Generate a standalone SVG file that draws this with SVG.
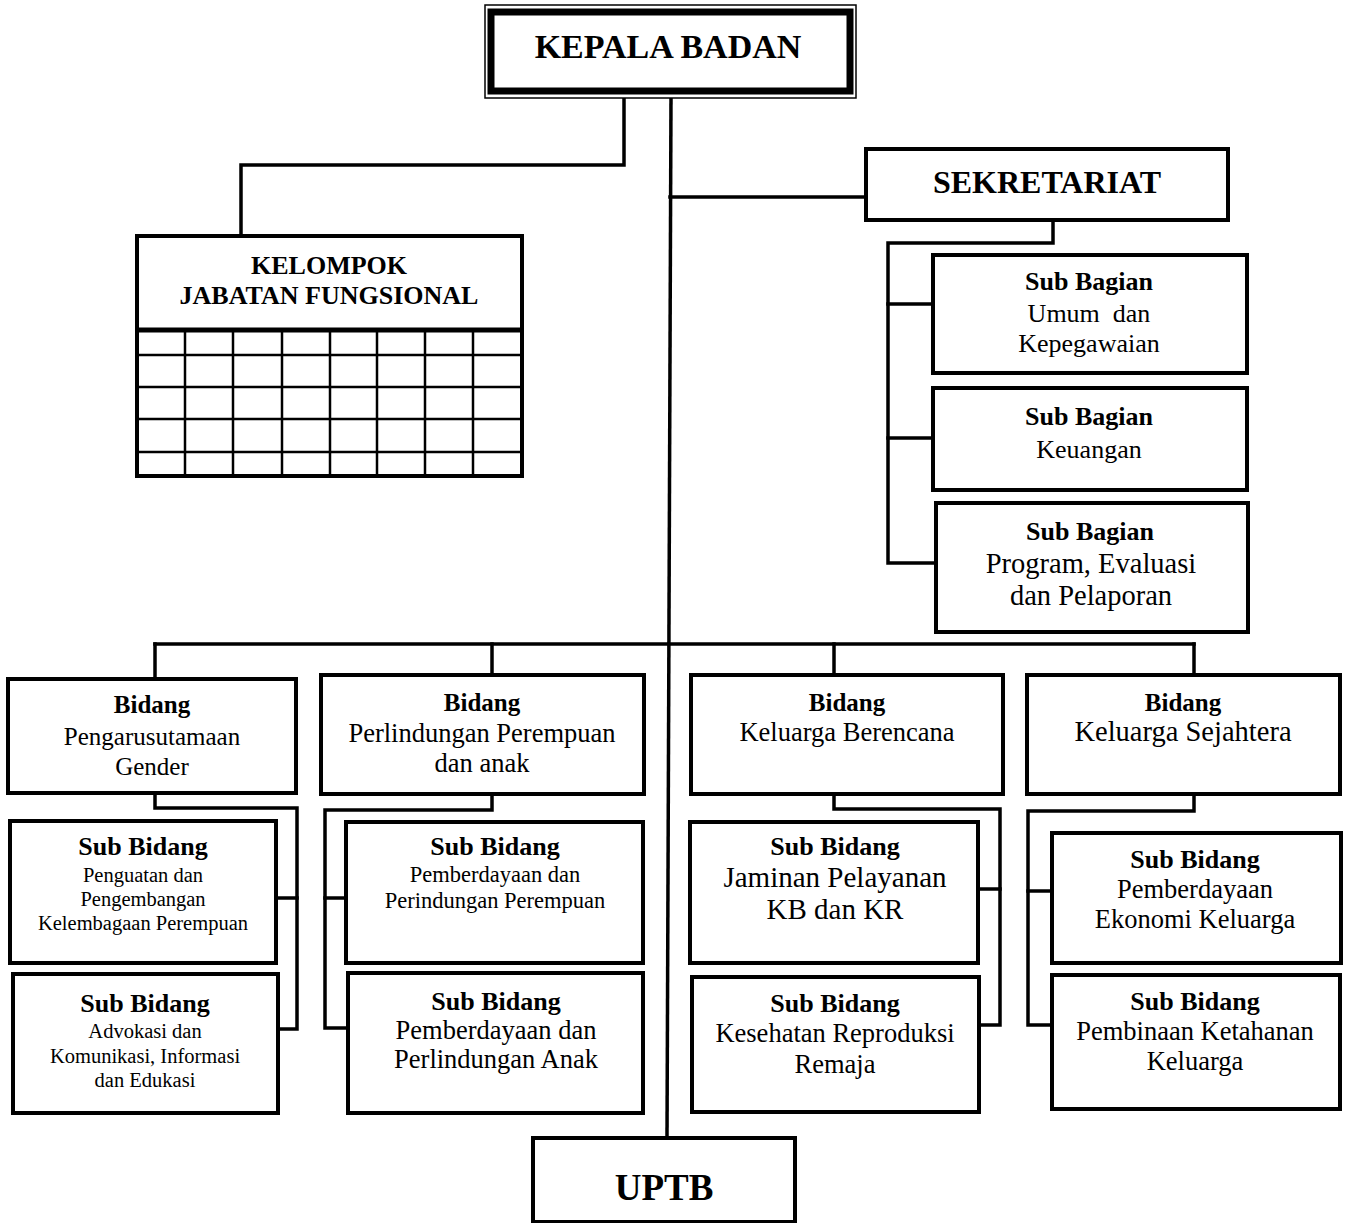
<svg xmlns="http://www.w3.org/2000/svg" width="1346" height="1223" viewBox="0 0 1346 1223">
<style>
  .box { fill: #fff; stroke: #000; stroke-width: 4; }
  .con { fill: none; stroke: #000; stroke-width: 3.5; stroke-linejoin: miter; stroke-linecap: square; }
  .grid { stroke: #000; stroke-width: 2.5; }
  text { font-family: "Liberation Serif", "Times New Roman", serif; fill: #000; text-anchor: middle; white-space: pre; }
  .b { font-weight: bold; }
</style>
<rect width="1346" height="1223" fill="#fff"/>

<g id="connectors">
  <polyline class="con" points="624,96 624,165 241,165 241,236"/>
  <line class="con" x1="671" y1="96" x2="667" y2="1138"/>
  <line class="con" x1="670" y1="197" x2="866" y2="197"/>
  <polyline class="con" points="1053,220 1053,243 888,243 888,563 934,563"/>
  <line class="con" x1="888" y1="304" x2="933" y2="304"/>
  <line class="con" x1="888" y1="438" x2="933" y2="438"/>
  <line class="con" x1="155" y1="644" x2="1194" y2="644"/>
  <line class="con" x1="155" y1="644" x2="155" y2="679"/>
  <line class="con" x1="492" y1="644" x2="492" y2="675"/>
  <line class="con" x1="834" y1="644" x2="834" y2="675"/>
  <line class="con" x1="1194" y1="644" x2="1194" y2="675"/>
  <polyline class="con" points="155,793 155,808 297,808 297,1029 278,1029"/>
  <line class="con" x1="276" y1="898" x2="297" y2="898"/>
  <polyline class="con" points="492,794 492,810 325,810 325,1028 348,1028"/>
  <line class="con" x1="325" y1="898" x2="346" y2="898"/>
  <polyline class="con" points="834,794 834,809 1000,809 1000,1025 979,1025"/>
  <line class="con" x1="978" y1="889" x2="1000" y2="889"/>
  <polyline class="con" points="1194,794 1194,811 1028,811 1028,1025 1052,1025"/>
  <line class="con" x1="1028" y1="891" x2="1052" y2="891"/>
</g>

<g id="kepala-badan">
  <rect x="485" y="5" width="371" height="93" fill="#fff" stroke="#000" stroke-width="1.5"/>
  <rect x="491" y="12" width="359" height="79" fill="#fff" stroke="#000" stroke-width="7"/>
  <text class="b" x="668" y="58" font-size="34">KEPALA BADAN</text>
</g>

<g id="kelompok-jabatan-fungsional">
  <rect class="box" x="137" y="236" width="385" height="240"/>
  <line x1="137" y1="330" x2="522" y2="330" stroke="#000" stroke-width="5"/>
  <g class="grid">
    <line x1="137" y1="355" x2="522" y2="355"/>
    <line x1="137" y1="387" x2="522" y2="387"/>
    <line x1="137" y1="419" x2="522" y2="419"/>
    <line x1="137" y1="452" x2="522" y2="452"/>
    <line x1="185" y1="330" x2="185" y2="476"/>
    <line x1="233" y1="330" x2="233" y2="476"/>
    <line x1="282" y1="330" x2="282" y2="476"/>
    <line x1="330" y1="330" x2="330" y2="476"/>
    <line x1="377" y1="330" x2="377" y2="476"/>
    <line x1="425" y1="330" x2="425" y2="476"/>
    <line x1="473" y1="330" x2="473" y2="476"/>
  </g>
  <text class="b" x="329" y="274" font-size="26">KELOMPOK</text>
  <text class="b" x="329" y="304" font-size="26">JABATAN FUNGSIONAL</text>
</g>

<g id="sekretariat">
  <rect class="box" x="866" y="149" width="362" height="71" stroke-width="5"/>
  <text class="b" x="1047" y="193" font-size="32">SEKRETARIAT</text>
</g>

<g id="sub-bagian-umum">
  <rect class="box" x="933" y="255" width="314" height="118"/>
  <text class="b" x="1089" y="290" font-size="26">Sub Bagian</text>
  <text x="1089" y="322" font-size="26">Umum  dan</text>
  <text x="1089" y="352" font-size="26">Kepegawaian</text>
</g>

<g id="sub-bagian-keuangan">
  <rect class="box" x="933" y="388" width="314" height="102"/>
  <text class="b" x="1089" y="425" font-size="26">Sub Bagian</text>
  <text x="1089" y="458" font-size="26">Keuangan</text>
</g>

<g id="sub-bagian-program">
  <rect class="box" x="936" y="503" width="312" height="129"/>
  <text class="b" x="1090" y="540" font-size="26">Sub Bagian</text>
  <text x="1091" y="573" font-size="28.5">Program, Evaluasi</text>
  <text x="1091" y="605" font-size="28.5">dan Pelaporan</text>
</g>

<g id="bidang-pug">
  <rect class="box" x="8" y="679" width="288" height="114"/>
  <text class="b" x="152" y="713" font-size="25">Bidang</text>
  <text x="152" y="745" font-size="25">Pengarusutamaan</text>
  <text x="152" y="775" font-size="25">Gender</text>
</g>

<g id="bidang-ppa">
  <rect class="box" x="321" y="675" width="323" height="119"/>
  <text class="b" x="482" y="711" font-size="25">Bidang</text>
  <text x="482" y="742" font-size="26.5">Perlindungan Perempuan</text>
  <text x="482" y="772" font-size="26.5">dan anak</text>
</g>

<g id="bidang-kb">
  <rect class="box" x="691" y="675" width="312" height="119"/>
  <text class="b" x="847" y="711" font-size="25">Bidang</text>
  <text x="847" y="741" font-size="26.5">Keluarga Berencana</text>
</g>

<g id="bidang-ks">
  <rect class="box" x="1027" y="675" width="313" height="119"/>
  <text class="b" x="1183" y="711" font-size="25">Bidang</text>
  <text x="1183" y="741" font-size="28.5">Keluarga Sejahtera</text>
</g>

<g id="sub-bidang-penguatan">
  <rect class="box" x="10" y="821" width="266" height="142"/>
  <text class="b" x="143" y="855" font-size="26">Sub Bidang</text>
  <text x="143" y="882" font-size="20.5">Penguatan dan</text>
  <text x="143" y="906" font-size="20.5">Pengembangan</text>
  <text x="143" y="930" font-size="20.5">Kelembagaan Perempuan</text>
</g>

<g id="sub-bidang-advokasi">
  <rect class="box" x="13" y="974" width="265" height="139"/>
  <text class="b" x="145" y="1012" font-size="26">Sub Bidang</text>
  <text x="145" y="1038" font-size="20.5">Advokasi dan</text>
  <text x="145" y="1063" font-size="20.5">Komunikasi, Informasi</text>
  <text x="145" y="1087" font-size="20.5">dan Edukasi</text>
</g>

<g id="sub-bidang-perempuan">
  <rect class="box" x="346" y="822" width="297" height="141"/>
  <text class="b" x="495" y="855" font-size="26">Sub Bidang</text>
  <text x="495" y="882" font-size="22.5">Pemberdayaan dan</text>
  <text x="495" y="908" font-size="22.5">Perindungan Perempuan</text>
</g>

<g id="sub-bidang-anak">
  <rect class="box" x="348" y="973" width="295" height="140"/>
  <text class="b" x="496" y="1010" font-size="26">Sub Bidang</text>
  <text x="496" y="1039" font-size="26.5">Pemberdayaan dan</text>
  <text x="496" y="1068" font-size="26.5">Perlindungan Anak</text>
</g>

<g id="sub-bidang-jaminan">
  <rect class="box" x="690" y="822" width="288" height="141"/>
  <text class="b" x="835" y="855" font-size="26">Sub Bidang</text>
  <text x="835" y="887" font-size="29">Jaminan Pelayanan</text>
  <text x="835" y="919" font-size="29">KB dan KR</text>
</g>

<g id="sub-bidang-kesehatan">
  <rect class="box" x="692" y="977" width="287" height="135"/>
  <text class="b" x="835" y="1012" font-size="26">Sub Bidang</text>
  <text x="835" y="1042" font-size="26.5">Kesehatan Reproduksi</text>
  <text x="835" y="1073" font-size="26.5">Remaja</text>
</g>

<g id="sub-bidang-ekonomi">
  <rect class="box" x="1052" y="833" width="289" height="130"/>
  <text class="b" x="1195" y="868" font-size="26">Sub Bidang</text>
  <text x="1195" y="898" font-size="26.5">Pemberdayaan</text>
  <text x="1195" y="928" font-size="26.5">Ekonomi Keluarga</text>
</g>

<g id="sub-bidang-ketahanan">
  <rect class="box" x="1052" y="975" width="288" height="134"/>
  <text class="b" x="1195" y="1010" font-size="26">Sub Bidang</text>
  <text x="1195" y="1040" font-size="26.5">Pembinaan Ketahanan</text>
  <text x="1195" y="1070" font-size="26.5">Keluarga</text>
</g>

<g id="uptb">
  <rect class="box" x="533" y="1138" width="262" height="84"/>
  <text class="b" x="664" y="1200" font-size="37">UPTB</text>
</g>
</svg>
